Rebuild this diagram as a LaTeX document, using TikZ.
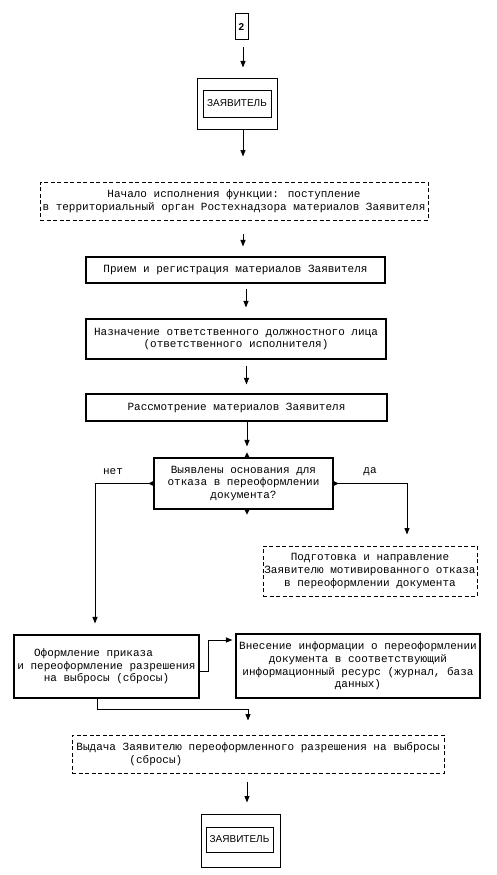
\documentclass[tikz,border=0pt]{standalone}
\usepackage{fontspec}
\setmainfont{Liberation Mono}
\newfontfamily\capsfont{Liberation Sans}
\usetikzlibrary{arrows.meta,calc}

\begin{document}
\begin{tikzpicture}[x=1pt,y=-1pt,
    box/.style={draw, line width=1.1pt, inner sep=0pt, align=center,
                font=\fontsize{11}{12.6}\selectfont},
    dbox/.style={box, line width=0.9pt, dash pattern=on 4pt off 2.5pt},
    capbox/.style={draw, line width=1pt, inner sep=0pt,
                font=\capsfont\fontsize{10}{11}\selectfont},
    flow/.style={line width=1pt, -{Triangle[width=5pt,length=6.5pt]}},
    lbl/.style={font=\fontsize{11}{12}\selectfont}]
    \path[fill=white] (0,0) rectangle (497,875);

    % upper part
    \node[capbox, font=\capsfont\bfseries\fontsize{10}{11}\selectfont,
          minimum width=13, minimum height=26] (n2) at (241.5,27) {2};
    \node[capbox, minimum width=80, minimum height=51] (zayavA) at (237,103.5) {};
    \node[capbox, minimum width=68, minimum height=27] (zayavAin) at (237,103.5) {ЗАЯВИТЕЛЬ};
    \node[dbox, minimum width=388, minimum height=38] (start) at (234,201)
         {Начало исполнения функции: поступление\\
          в территориальный орган Ростехнадзора материалов Заявителя};
    \node[box, minimum width=299, minimum height=26] (priem) at (235.5,270)
         {Прием и регистрация материалов Заявителя};
    \node[box, minimum width=300, minimum height=40] (naz) at (236,339)
         {Назначение ответственного должностного лица\\(ответственного исполнителя)};
    \node[box, minimum width=301, minimum height=27] (rass) at (236.5,407.5)
         {Рассмотрение материалов Заявителя};

    % decision
    \node[box, minimum width=179, minimum height=51] (dec) at (243.5,483.5)
         {Выявлены основания для\\отказа в переоформлении\\документа?};
    \node[lbl] (net) at (113,472) {нет};
    \node[lbl] (da) at (370,472) {да};
    \node[dbox, minimum width=214, minimum height=50] (podg) at (370,571)
         {Подготовка и направление\\Заявителю мотивированного отказа\\в переоформлении документа};

    % lower part
    \node[box, minimum width=185, minimum height=63] (oform) at (106.5,666.5)
         {Оформление приказа\hspace*{26pt}\\и переоформление разрешения\\на выбросы (сбросы)};
    \node[box, minimum width=244, minimum height=64] (vnes) at (358,666)
         {Внесение информации о переоформлении\\документа в соответствующий\\
          информационный ресурс (журнал, база\\данных)};
    \node[dbox, align=left, minimum width=372, minimum height=38] (vyd) at (258,754)
         {Выдача Заявителю переоформленного разрешения на выбросы\\\hspace*{53pt}(сбросы)};
    \node[capbox, minimum width=79, minimum height=53] (zayavB) at (240.5,840.5) {};
    \node[capbox, minimum width=67, minimum height=25] (zayavBin) at (239.5,839.5) {ЗАЯВИТЕЛЬ};

    % vertical flow
    \draw[flow, shorten <=7pt, shorten >=10pt] ($(n2.south)+(1.5,0)$) -- ($(n2.south |- zayavA.north)+(1.5,0)$);
    \draw[flow, shorten >=25pt] ($(zayavA.south)+(6,0)$) -- ($(zayavA.south |- start.north)+(6,0)$);
    \draw[flow, shorten <=14pt, shorten >=10pt] ($(start.south)+(9,0)$) -- ($(start.south |- priem.north)+(9,0)$);
    \draw[flow, shorten <=5pt, shorten >=11pt] ($(priem.south)+(10.5,0)$) -- ($(priem.south |- naz.north)+(10.5,0)$);
    \draw[flow, shorten <=6pt, shorten >=9pt] ($(naz.south)+(10.5,0)$) -- ($(naz.south |- rass.north)+(10.5,0)$);
    \draw[flow, shorten >=11pt] ($(rass.south)+(10.5,0)$) -- ($(rass.south |- dec.north)+(10.5,0)$);

    % edge marks of the decision box
    \fill ([xshift=3.5pt]dec.north) ++(-3,1) -- ++(6,0) -- ++(-3,-6) -- cycle;
    \fill ([xshift=3.5pt]dec.south) ++(-3,-1) -- ++(6,0) -- ++(-3,6) -- cycle;
    \fill (dec.west) ++(1,-3) -- ++(0,6) -- ++(-6,-3) -- cycle;
    \fill (dec.east) ++(-1,-3) -- ++(0,6) -- ++(6,-3) -- cycle;

    % branches
    \draw[flow, shorten >=11pt] (dec.west) -| ([xshift=-11.5pt]oform.north);
    \draw[flow, shorten >=11pt] (dec.east) -| ([xshift=37pt]podg.north);
    \draw[flow, shorten >=3pt] ([yshift=-4.5pt]oform.east) -- ++(9,0) |- ([yshift=26pt]vnes.west);
    \draw[flow, shorten >=14pt] ([xshift=-9.5pt]oform.south) -- ++(0,11) -| ([xshift=-10pt]vyd.north);
    \draw[flow, shorten <=9pt, shorten >=11pt] ($(vyd.south)+(-11,0)$) -- ($(vyd.south |- zayavB.north)+(-11,0)$);
\end{tikzpicture}
\end{document}
